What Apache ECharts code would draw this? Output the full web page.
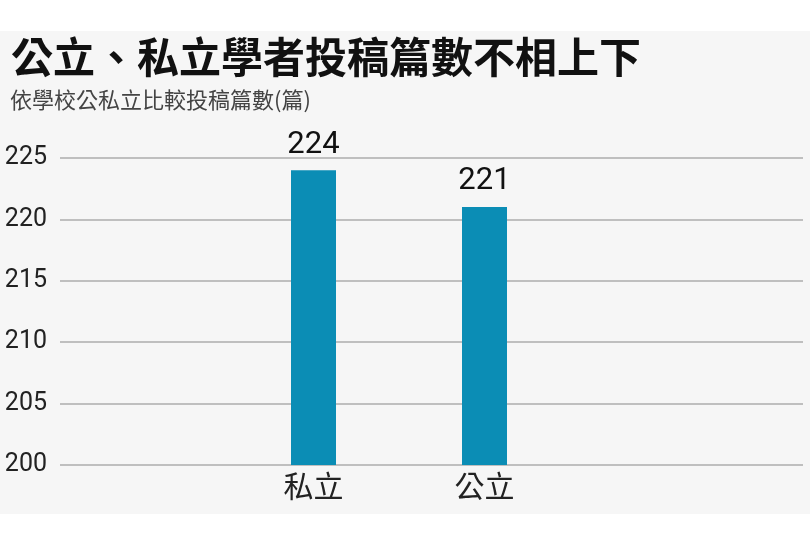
<!DOCTYPE html>
<html>
<head>
<meta charset="utf-8">
<script src="https://cdn.jsdelivr.net/npm/echarts@6/dist/echarts.min.js"></script>
<style>
html,body{margin:0;padding:0;background:#fff;}
#c{width:810px;height:543px;}
</style>
</head>
<body>
<div id="c"></div>
<script>
const titleText = '公立、私立學者投稿篇數不相上下';
const subtitleText = '依學校公私立比較投稿篇數(篇)';
const categories = ['私立', '公立'];
const values = [224, 221];
const yMin = 200, yMax = 225, yStep = 5;

const chart = echarts.init(document.getElementById('c'), null, {renderer: 'canvas'});
const numFont = '"Roboto", sans-serif';
const cjkFont = '"Noto Sans CJK TC", "Noto Sans CJK SC", sans-serif';
chart.setOption({
  backgroundColor: '#ffffff',
  animation: false,
  graphic: [{
    type: 'rect', z: -10, silent: true,
    shape: {x: 0, y: 31, width: 810, height: 483},
    style: {fill: '#f6f6f6'}
  }],
  title: [{
    text: titleText, left: 6, top: 31,
    textStyle: {fontFamily: cjkFont, fontSize: 42, fontWeight: 'bold', color: '#111'}
  }, {
    text: subtitleText, left: 5, top: 84,
    textStyle: {fontFamily: cjkFont, fontSize: 22, fontWeight: 'normal', color: '#444'}
  }],
  grid: [
    {left: 60, right: 7, top: 158, bottom: 78},
    {left: 228, width: 342, top: 158, bottom: 78}
  ],
  xAxis: [
    {gridIndex: 0, type: 'category', data: [], show: false},
    {gridIndex: 1, type: 'category', data: categories,
     axisLine: {show: false}, axisTick: {show: false},
     axisLabel: {fontFamily: cjkFont, fontSize: 30, color: '#222', margin: 6}}
  ],
  yAxis: [
    {gridIndex: 0, type: 'value', min: yMin, max: yMax, interval: yStep,
     axisLine: {show: false}, axisTick: {show: false},
     axisLabel: {fontFamily: numFont, fontSize: 25, color: '#222', margin: 13},
     splitLine: {lineStyle: {color: '#bfbfbf', width: 2}}},
    {gridIndex: 1, type: 'value', min: yMin, max: yMax, interval: yStep, show: false}
  ],
  series: [{
    type: 'bar', xAxisIndex: 1, yAxisIndex: 1,
    data: values, barWidth: 45,
    itemStyle: {color: '#0b8db5'},
    label: {show: true, position: 'top', distance: 10,
      fontFamily: numFont, fontSize: 31, fontWeight: 'normal', color: '#111'}
  }]
});
</script>
</body>
</html>
